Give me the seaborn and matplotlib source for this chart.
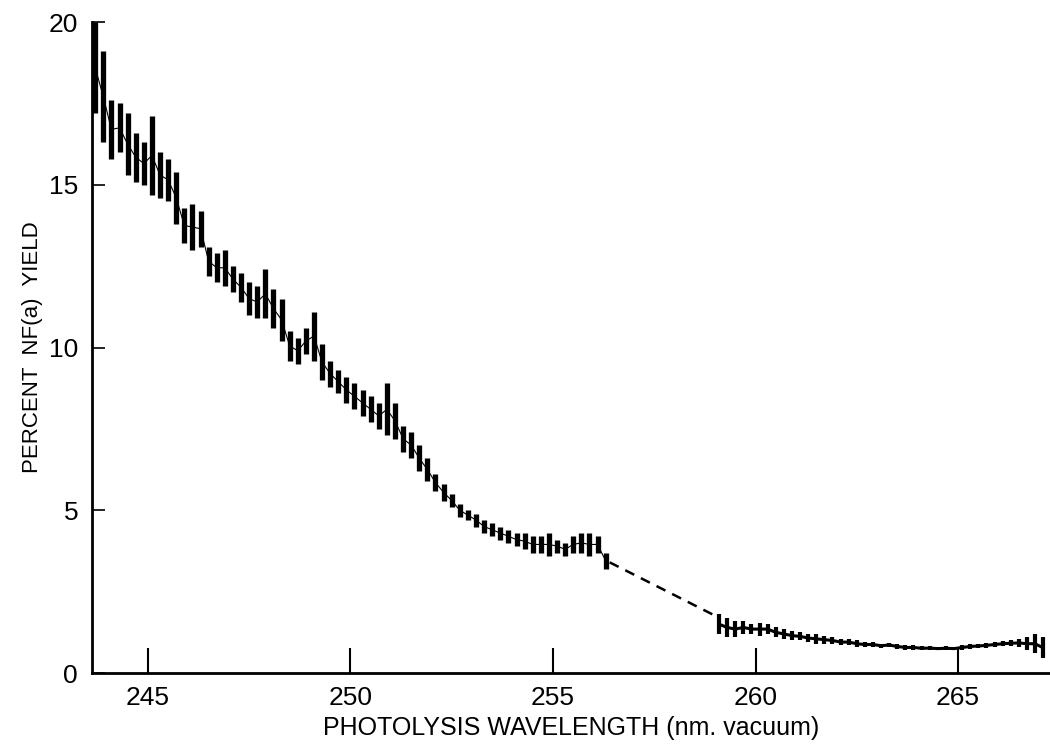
import matplotlib
matplotlib.use("Agg")
import matplotlib.pyplot as plt
import seaborn as sns
import pandas as pd

# noisy trace, first scan: wavelength (nm) with low / high edge of each stroke (%)
wl_a = [243.7, 243.9, 244.1, 244.3, 244.5, 244.7, 244.9, 245.1, 245.3, 245.5,
        245.7, 245.9, 246.1, 246.3, 246.5, 246.7, 246.9, 247.1, 247.3, 247.5,
        247.7, 247.9, 248.1, 248.3, 248.5, 248.7, 248.9, 249.1, 249.3, 249.5,
        249.7, 249.9, 250.1, 250.3, 250.5, 250.7, 250.9, 251.1, 251.3, 251.5,
        251.7, 251.9, 252.1, 252.3, 252.5, 252.7, 252.9, 253.1, 253.3, 253.5,
        253.7, 253.9, 254.1, 254.3, 254.5, 254.7, 254.9, 255.1, 255.3, 255.5,
        255.7, 255.9, 256.1, 256.3]
hi_a = [20.0, 19.1, 17.6, 17.5, 17.2, 16.6, 16.3, 17.1, 16.0, 15.8,
        15.4, 14.3, 14.4, 14.2, 13.1, 12.9, 13.0, 12.5, 12.3, 12.0,
        11.9, 12.4, 11.8, 11.5, 10.5, 10.3, 10.6, 11.1, 10.1, 9.6,
        9.3, 9.1, 8.9, 8.7, 8.5, 8.3, 8.9, 8.3, 7.6, 7.4,
        7.0, 6.6, 6.1, 5.8, 5.5, 5.2, 5.0, 4.9, 4.7, 4.6,
        4.5, 4.4, 4.3, 4.3, 4.2, 4.2, 4.3, 4.1, 4.0, 4.2,
        4.3, 4.3, 4.2, 3.7]
lo_a = [17.2, 16.3, 15.8, 16.0, 15.3, 15.1, 15.0, 14.7, 14.6, 14.5,
        13.8, 13.2, 13.0, 13.1, 12.2, 12.0, 11.9, 11.7, 11.4, 11.0,
        10.9, 10.9, 10.6, 10.2, 9.6, 9.5, 9.8, 9.6, 9.0, 8.8,
        8.6, 8.3, 8.1, 7.9, 7.7, 7.5, 7.3, 7.2, 6.8, 6.6,
        6.2, 5.9, 5.6, 5.3, 5.1, 4.8, 4.7, 4.5, 4.3, 4.2,
        4.1, 4.0, 3.9, 3.8, 3.7, 3.7, 3.6, 3.7, 3.6, 3.7,
        3.7, 3.6, 3.7, 3.2]

# dashed bridge across the gap
wl_gap = [256.4, 259.1]
y_gap = [3.4, 1.7]

# second scan
wl_b = [259.1, 259.3, 259.5, 259.7, 259.9, 260.1, 260.3, 260.5, 260.7, 260.9,
        261.1, 261.3, 261.5, 261.7, 261.9, 262.1, 262.3, 262.5, 262.7, 262.9,
        263.1, 263.3, 263.5, 263.7, 263.9, 264.1, 264.3, 264.5, 264.7, 264.9,
        265.1, 265.3, 265.5, 265.7, 265.9, 266.1, 266.3, 266.5, 266.7, 266.9,
        267.1]
hi_b = [1.8, 1.7, 1.6, 1.6, 1.5, 1.55, 1.5, 1.4, 1.35, 1.3,
        1.25, 1.2, 1.2, 1.15, 1.1, 1.05, 1.05, 1.0, 0.95, 0.95,
        0.9, 0.92, 0.88, 0.85, 0.85, 0.82, 0.83, 0.8, 0.82, 0.8,
        0.85, 0.88, 0.9, 0.92, 0.95, 0.98, 1.0, 1.05, 1.1, 1.2,
        1.1]
lo_b = [1.2, 1.1, 1.1, 1.2, 1.2, 1.15, 1.2, 1.1, 1.05, 1.0,
        1.0, 0.95, 0.9, 0.9, 0.9, 0.85, 0.85, 0.8, 0.8, 0.8,
        0.78, 0.8, 0.75, 0.72, 0.72, 0.7, 0.7, 0.7, 0.7, 0.7,
        0.72, 0.75, 0.76, 0.78, 0.8, 0.82, 0.83, 0.8, 0.7, 0.6,
        0.45]

sns.set_style("ticks")
plt.rcParams['font.family'] = ['Liberation Sans', 'DejaVu Sans']
plt.rcParams['text.color'] = 'black'
plt.rcParams['axes.labelcolor'] = 'black'
plt.rcParams['xtick.color'] = 'black'
plt.rcParams['ytick.color'] = 'black'
plt.rcParams['axes.edgecolor'] = 'black'

fig = plt.figure(figsize=(10.5, 7.54), dpi=100)
ax = fig.add_axes([0.0876, 0.1074, 0.9124, 0.8634])

# strokes of the trace
ax.vlines(wl_a, lo_a, hi_a, color="black", linewidth=3.8)
ax.vlines(wl_b, lo_b, hi_b, color="black", linewidth=3.0)

# thin line through stroke centres keeps the trace continuous
mid_a = pd.DataFrame({"wl": wl_a, "y": [(h + l) / 2 for h, l in zip(hi_a, lo_a)]})
mid_b = pd.DataFrame({"wl": wl_b, "y": [(h + l) / 2 for h, l in zip(hi_b, lo_b)]})
sns.lineplot(data=mid_a, x="wl", y="y", color="black", linewidth=0.8, ax=ax)
sns.lineplot(data=mid_b, x="wl", y="y", color="black", linewidth=2.2, ax=ax)
sns.lineplot(x=wl_gap, y=y_gap, color="black", linewidth=1.8, linestyle=(0, (4, 3)), ax=ax)

ax.set_xlim(243.62, 267.27)
ax.set_ylim(0, 20)
ax.set_xticks([245, 250, 255, 260, 265])
ax.set_yticks([0, 5, 10, 15, 20])
ax.tick_params(axis="x", direction="in", length=18, width=1.5, pad=9, labelsize=19)
ax.tick_params(axis="y", direction="in", length=9, width=1.2, pad=10, labelsize=19)
sns.despine(ax=ax)
for s in ["left", "bottom"]:
    ax.spines[s].set_linewidth(2)

ax.set_xlabel("PHOTOLYSIS WAVELENGTH (nm. vacuum)", fontsize=18, labelpad=5)
ax.set_ylabel("PERCENT  NF(a)  YIELD", fontsize=16, labelpad=4)

fig.savefig("out.png", dpi=100)
